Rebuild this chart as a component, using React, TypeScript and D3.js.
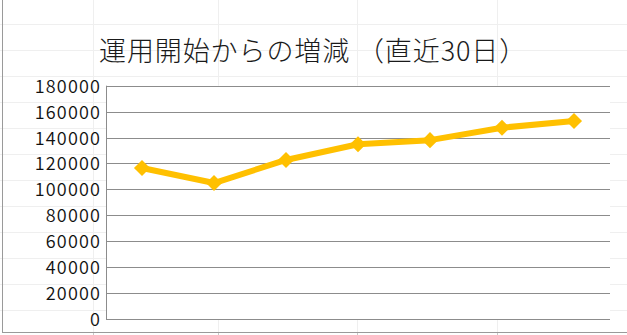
import React from "react";
import * as d3 from "d3";

const categories = ["1", "2", "3", "4", "5", "6", "7"];
const values = [116500, 104900, 122700, 134800, 138000, 147600, 152800];
const yTicks = [0, 20000, 40000, 60000, 80000, 100000, 120000, 140000, 160000, 180000];
const title = "運用開始からの増減 （直近30日）";
const cellRows = [24, 50, 76, 102, 128, 154, 180, 206, 232, 258, 284, 310];
const cellCols = [93, 218, 357, 497];

const W = 627;
const H = 335;
const plot = { left: 106, right: 610, top: 85.7, bottom: 319 };
const FONT = "'Noto Sans CJK JP', 'Noto Sans', sans-serif";

export default function App() {
  const x = d3.scaleBand<string>().domain(categories).range([plot.left, plot.right]);
  const y = d3.scaleLinear().domain([0, 180000]).range([plot.bottom, plot.top]);
  const line = d3
    .line<number>()
    .x((_, i) => (x(categories[i]) as number) + x.bandwidth() / 2)
    .y((d) => y(d));
  const diamond = d3.symbol(d3.symbolDiamond2, 165)();

  return (
    <svg
      width={W}
      height={H}
      style={{ position: "fixed", left: 0, top: 0, background: "#fff" }}
      fontFamily={FONT}
    >
      {/* spreadsheet cell grid */}
      {cellRows.map((r) => (
        <line key={"r" + r} x1={0} x2={W} y1={r + 0.5} y2={r + 0.5} stroke="#efefef" />
      ))}
      {cellCols.map((c) => (
        <line key={"c" + c} x1={c + 0.5} x2={c + 0.5} y1={0} y2={H} stroke="#efefef" />
      ))}
      {cellCols.map((c) => (
        <line key={"ct" + c} x1={c + 0.5} x2={c + 0.5} y1={332} y2={H} stroke="#c8c8c8" />
      ))}
      <line x1={2.5} x2={2.5} y1={0} y2={332} stroke="#9a9a9a" />
      <line x1={2} x2={W} y1={332.5} y2={332.5} stroke="#9a9a9a" />

      {/* plot area */}
      <rect
        x={plot.left}
        y={plot.top}
        width={plot.right - plot.left}
        height={plot.bottom - plot.top}
        fill="#fff"
      />
      {yTicks.map((t) => (
        <g key={t}>
          <line
            x1={plot.left}
            x2={plot.right}
            y1={Math.round(y(t)) + 0.5}
            y2={Math.round(y(t)) + 0.5}
            stroke="#8c8c8c"
            strokeWidth={1}
          />
          <text
            x={101.2}
            y={y(t) + 7}
            textAnchor="end"
            fontSize={18}
            fontWeight={350}
            letterSpacing={1.2}
            fill="#111"
          >
            {t}
          </text>
        </g>
      ))}
      <line
        x1={plot.left + 0.5}
        x2={plot.left + 0.5}
        y1={plot.top}
        y2={plot.bottom + 0.5}
        stroke="#8c8c8c"
      />

      {/* series */}
      <path d={line(values) || ""} fill="none" stroke="#FFC000" strokeWidth={6} strokeLinejoin="round" />
      {values.map((v, i) => (
        <path
          key={i}
          d={diamond || ""}
          transform={`translate(${(x(categories[i]) as number) + x.bandwidth() / 2},${y(v)})`}
          fill="#FFC000"
        />
      ))}

      {/* title */}
      <text x={99} y={61} fontSize={27} fontWeight={300} letterSpacing={0.9} fill="#1a1a1a">
        {title}
      </text>
    </svg>
  );
}
